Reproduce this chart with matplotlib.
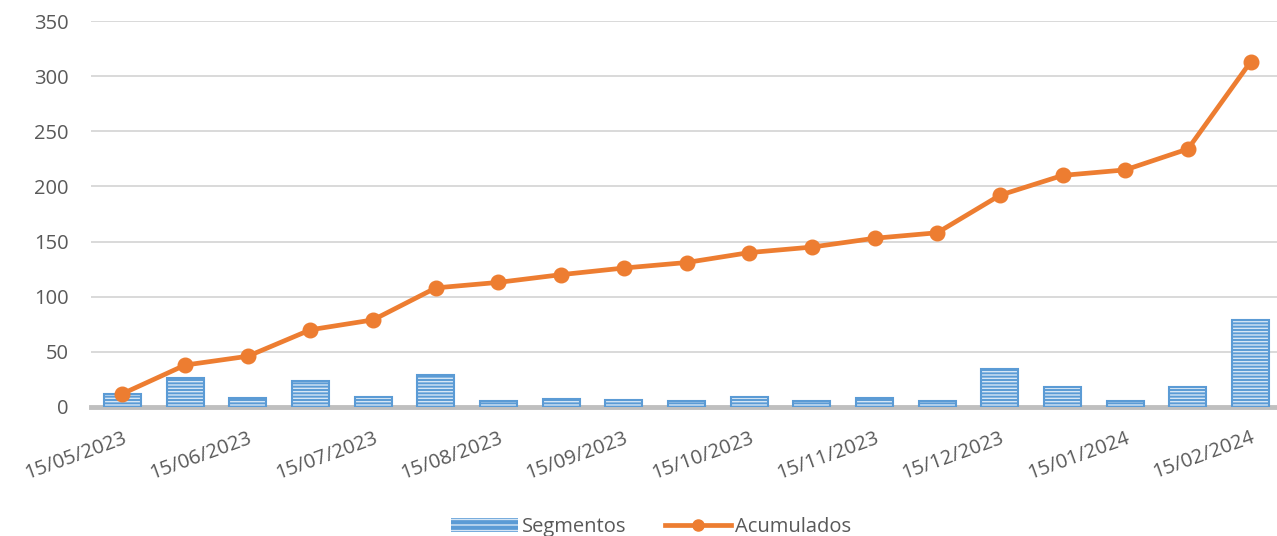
import matplotlib
matplotlib.use("Agg")
import matplotlib.pyplot as plt
from matplotlib.patches import Patch
from matplotlib.lines import Line2D
import numpy as np

fechas = ["15/05/2023", "01/06/2023", "15/06/2023", "01/07/2023", "15/07/2023",
          "01/08/2023", "15/08/2023", "01/09/2023", "15/09/2023", "01/10/2023",
          "15/10/2023", "01/11/2023", "15/11/2023", "01/12/2023", "15/12/2023",
          "01/01/2024", "15/01/2024", "01/02/2024", "15/02/2024"]
segmentos = [12, 26, 8, 24, 9, 29, 5, 7, 6, 5, 9, 5, 8, 5, 34, 18, 5, 18, 79]
acumulados = [12, 38, 46, 70, 79, 108, 113, 120, 126, 131, 140, 145, 153, 158,
              192, 210, 215, 234, 313]
yticks = [0, 50, 100, 150, 200, 250, 300, 350]

plt.rcParams['font.family'] = ['Open Sans', 'DejaVu Sans']

BLUE = '#5B9BD5'
ORANGE = '#ED7D31'
GREY = '#595959'

fig = plt.figure(figsize=(12.77, 5.36), dpi=100)
ax = fig.add_axes([0.0713, 0.2407, 0.9287, 0.7201])

x = np.arange(len(segmentos))
# filled bars with light horizontal stripes
ax.bar(x, segmentos, width=0.59, color=BLUE, edgecolor='#D6E6F5',
       hatch='-----', linewidth=0, zorder=2)
ax.bar(x, segmentos, width=0.59, fill=False, edgecolor=BLUE,
       linewidth=1.5, zorder=3)
ax.plot(x, acumulados, color=ORANGE, linewidth=3.4, marker='o',
        markersize=10.5, zorder=4)

ax.set_ylim(0, 350)
ax.set_xlim(-0.5, 18.42)
ax.set_yticks(yticks)
ax.set_yticklabels([str(v) for v in yticks], fontsize=14.5, color=GREY)
ax.set_xticks(x[::2])
ax.set_xticklabels(fechas[::2], rotation=20, ha='right', rotation_mode='anchor',
                   fontsize=14.5, color=GREY)
ax.tick_params(axis='both', length=0)
ax.tick_params(axis='y', pad=16)
ax.tick_params(axis='x', pad=15)

ax.grid(axis='y', color='#D9D9D9', linewidth=1.4, zorder=0)
ax.set_axisbelow(True)
for s in ['top', 'right', 'left']:
    ax.spines[s].set_visible(False)
ax.spines['bottom'].set_color('#BFBFBF')
ax.spines['bottom'].set_linewidth(3.5)
ax.spines['bottom'].set_zorder(1)

handles = [Patch(facecolor=BLUE, edgecolor='#D6E6F5', hatch='---', linewidth=0),
           Line2D([0], [0], color=ORANGE, linewidth=3.4, marker='o', markersize=8)]
leg = fig.legend(handles, ['Segmentos', 'Acumulados'], loc='lower center',
                 bbox_to_anchor=(0.51, -0.035), ncol=2, frameon=False,
                 fontsize=14.5, handlelength=3.3, columnspacing=1.9, handletextpad=0.2)
for t in leg.get_texts():
    t.set_color(GREY)

fig.savefig('out.png', dpi=100)
